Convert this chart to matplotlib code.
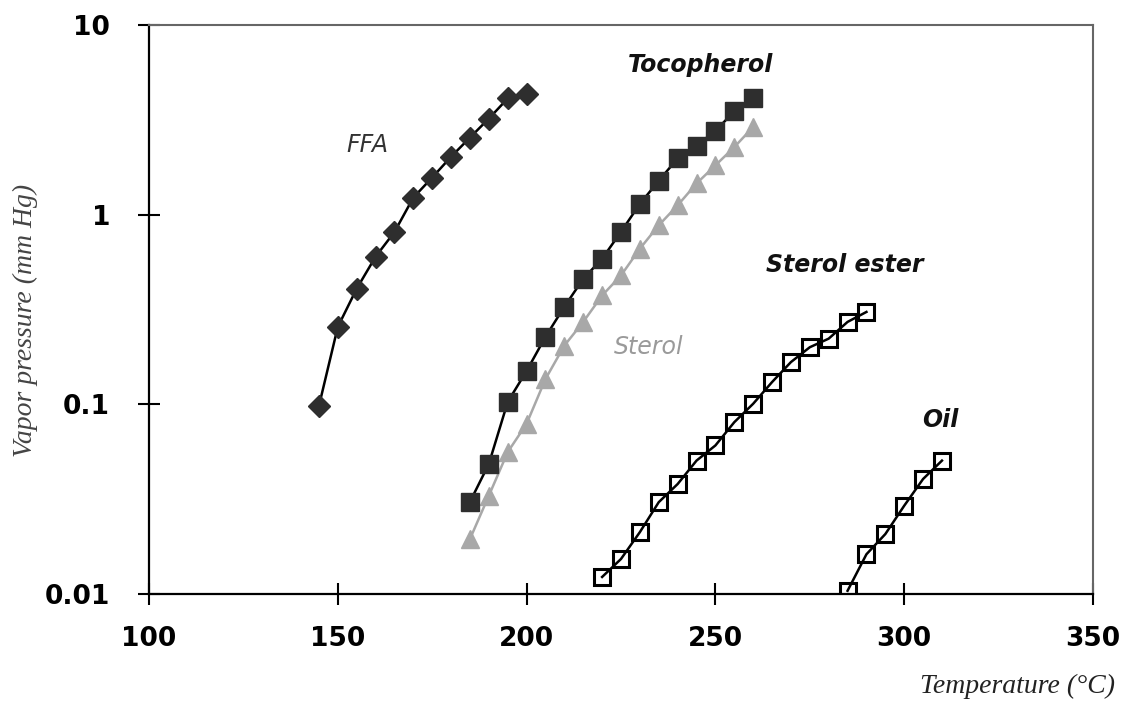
import matplotlib
matplotlib.use("Agg")
import matplotlib.pyplot as plt
from matplotlib.ticker import FixedLocator, FixedFormatter, NullLocator

# data
ffa_t = [145, 150, 155, 160, 165, 170, 175, 180, 185, 190, 195, 200]
ffa_p = [0.098, 0.256, 0.407, 0.60, 0.81, 1.23, 1.57, 2.02, 2.55, 3.21, 4.10, 4.35]

toco_t = [185, 190, 195, 200, 205, 210, 215, 220, 225, 230, 235, 240, 245, 250, 255, 260]
toco_p = [0.0306, 0.0485, 0.103, 0.150, 0.227, 0.327, 0.459, 0.586, 0.812, 1.14,
          1.51, 1.98, 2.31, 2.77, 3.50, 4.10]

sterol_t = [185, 190, 195, 200, 205, 210, 215, 220, 225, 230, 235, 240, 245, 250, 255, 260]
sterol_p = [0.0195, 0.033, 0.056, 0.079, 0.136, 0.204, 0.272, 0.375, 0.478, 0.662,
            0.879, 1.12, 1.46, 1.82, 2.27, 2.90]

ester_t = [220, 225, 230, 235, 240, 245, 250, 255, 260, 265, 270, 275, 280, 285, 290]
ester_p = [0.0123, 0.0153, 0.0212, 0.0305, 0.038, 0.0505, 0.0607, 0.0805, 0.1007,
           0.131, 0.167, 0.200, 0.222, 0.272, 0.307]

oil_t = [285, 290, 295, 300, 305, 310]
oil_p = [0.0104, 0.0162, 0.0207, 0.0292, 0.0404, 0.0505]

xticks = [100, 150, 200, 250, 300, 350]
yticks = [0.01, 0.1, 1, 10]
ylabels = ["0.01", "0.1", "1", "10"]

fig = plt.figure(figsize=(11.4, 7.04), dpi=100)
ax = fig.add_axes([149/1140, 1-594/704, (1093-149)/1140, (594-25)/704])

dark = "#2e2e2e"
ax.plot(ffa_t, ffa_p, "-", color="black", lw=1.8, marker="D", ms=11,
        mfc=dark, mec=dark)
ax.plot(sterol_t, sterol_p, "-", color="#a8a8a8", lw=1.8, marker="^", ms=13,
        mfc="#a8a8a8", mec="#a8a8a8")
ax.plot(toco_t, toco_p, "-", color="black", lw=1.8, marker="s", ms=13.5,
        mfc=dark, mec=dark)
ax.plot(ester_t, ester_p, "-", color="black", lw=1.8, marker="s", ms=12,
        mfc="none", mec="black", mew=2.2)
ax.plot(oil_t, oil_p, "-", color="black", lw=1.8, marker="s", ms=12,
        mfc="none", mec="black", mew=2.2)

ax.set_yscale("log")
ax.set_xlim(100, 350)
ax.set_ylim(0.01, 10)

ax.xaxis.set_major_locator(FixedLocator(xticks))
ax.yaxis.set_major_locator(FixedLocator(yticks))
ax.yaxis.set_major_formatter(FixedFormatter(ylabels))
ax.yaxis.set_minor_locator(NullLocator())
ax.xaxis.set_minor_locator(NullLocator())

ax.tick_params(axis="both", direction="inout", length=16, width=1.5, color="black",
               labelsize=19)
ax.tick_params(axis="x", pad=15)
ax.tick_params(axis="y", pad=20)
for lab in ax.get_xticklabels() + ax.get_yticklabels():
    lab.set_fontweight("bold")

for s in ["left", "bottom"]:
    ax.spines[s].set_linewidth(1.6)
    ax.spines[s].set_color("black")
for s in ["top", "right"]:
    ax.spines[s].set_linewidth(1.5)
    ax.spines[s].set_color("#666666")

ax.text(157.7, 2.33, "FFA", fontsize=17, style="italic", color="#333333",
        ha="center", va="center")
ax.text(246.2, 6.15, "Tocopherol", fontsize=17, style="italic", weight="bold",
        color="#111111", ha="center", va="center")
ax.text(284.3, 0.54, "Sterol ester", fontsize=17, style="italic", weight="bold",
        color="#111111", ha="center", va="center")
ax.text(232.2, 0.20, "Sterol", fontsize=17, style="italic", color="#9a9a9a",
        ha="center", va="center")
ax.text(309.5, 0.083, "Oil", fontsize=17, style="italic", weight="bold",
        color="#111111", ha="center", va="center")

fig.text(25/1140, 1-320/704, "Vapor pressure (mm Hg)", rotation=90,
         family="Liberation Serif", style="italic", fontsize=20, color="#444444",
         ha="center", va="center")
fig.text(1115/1140, 1-686/704, "Temperature (\u00b0C)", family="Liberation Serif",
         style="italic", fontsize=20, color="#222222", ha="right", va="center")

fig.savefig("out.png", dpi=100, facecolor="white")
